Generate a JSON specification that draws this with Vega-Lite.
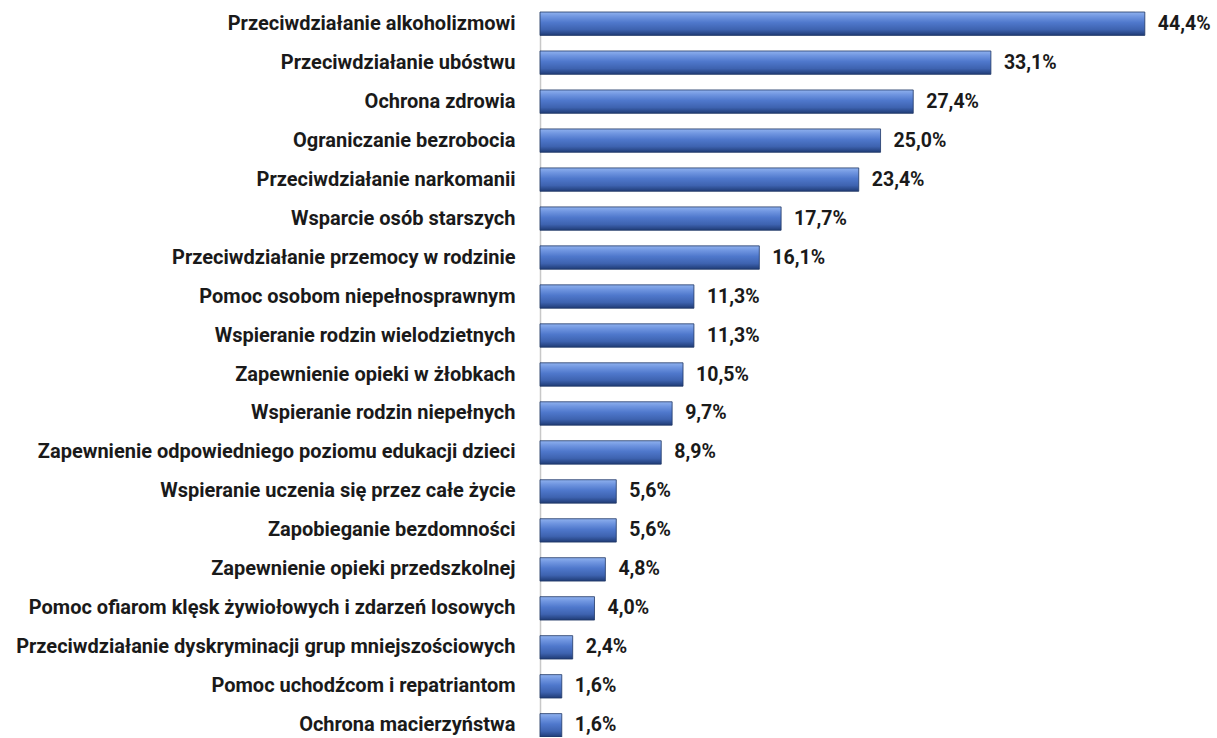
{
  "$schema": "https://vega.github.io/schema/vega-lite/v6.json",
  "autosize": "none",
  "padding": {"left": 540, "top": 12, "right": 64, "bottom": 0},
  "width": 613,
  "height": 725,
  "background": "white",
  "config": {
    "view": {"stroke": null},
    "locale": {"number": {"decimal": ",", "thousands": " ", "grouping": [3], "currency": ["", " zł"]}}
  },
  "data": {"values": [
    {"kategoria": "Przeciwdziałanie alkoholizmowi", "wartosc": 0.444},
    {"kategoria": "Przeciwdziałanie ubóstwu", "wartosc": 0.331},
    {"kategoria": "Ochrona zdrowia", "wartosc": 0.274},
    {"kategoria": "Ograniczanie bezrobocia", "wartosc": 0.25},
    {"kategoria": "Przeciwdziałanie narkomanii", "wartosc": 0.234},
    {"kategoria": "Wsparcie osób starszych", "wartosc": 0.177},
    {"kategoria": "Przeciwdziałanie przemocy w rodzinie", "wartosc": 0.161},
    {"kategoria": "Pomoc osobom niepełnosprawnym", "wartosc": 0.113},
    {"kategoria": "Wspieranie rodzin wielodzietnych", "wartosc": 0.113},
    {"kategoria": "Zapewnienie opieki w żłobkach", "wartosc": 0.105},
    {"kategoria": "Wspieranie rodzin niepełnych", "wartosc": 0.097},
    {"kategoria": "Zapewnienie odpowiedniego poziomu edukacji dzieci", "wartosc": 0.089},
    {"kategoria": "Wspieranie uczenia się przez całe życie", "wartosc": 0.056},
    {"kategoria": "Zapobieganie bezdomności", "wartosc": 0.056},
    {"kategoria": "Zapewnienie opieki przedszkolnej", "wartosc": 0.048},
    {"kategoria": "Pomoc ofiarom klęsk żywiołowych i zdarzeń losowych", "wartosc": 0.04},
    {"kategoria": "Przeciwdziałanie dyskryminacji grup mniejszościowych", "wartosc": 0.024},
    {"kategoria": "Pomoc uchodźcom i repatriantom", "wartosc": 0.016},
    {"kategoria": "Ochrona macierzyństwa", "wartosc": 0.016}
  ]},
  "encoding": {
    "y": {
      "field": "kategoria", "type": "nominal", "sort": null,
      "scale": {"paddingInner": 0.4, "paddingOuter": 0},
      "axis": {
        "title": null, "ticks": false, "domainColor": "#c8c8c8", "domainWidth": 1.5,
        "labelFont": "Roboto", "labelFontWeight": "bold", "labelFontSize": 20,
        "labelColor": "#1a1a1a", "labelPadding": 25, "labelLimit": 600
      }
    },
    "x": {
      "field": "wartosc", "type": "quantitative",
      "scale": {"domain": [0, 0.45], "nice": false},
      "axis": null
    }
  },
  "layer": [
    {
      "mark": {
        "type": "bar",
        "stroke": "#1f3766", "strokeWidth": 0.8,
        "color": {
          "gradient": "linear", "x1": 0, "y1": 0, "x2": 0, "y2": 1,
          "stops": [
            {"offset": 0, "color": "#8fb1ee"},
            {"offset": 0.2, "color": "#6f95e0"},
            {"offset": 0.45, "color": "#4f78cc"},
            {"offset": 0.75, "color": "#3e63b0"},
            {"offset": 1, "color": "#1f3b75"}
          ]
        }
      }
    },
    {
      "mark": {"type": "text", "align": "left", "baseline": "middle", "dx": 13,
               "font": "Roboto", "fontWeight": "bold", "fontSize": 19.5, "color": "#1a1a1a"},
      "encoding": {"text": {"field": "wartosc", "type": "quantitative", "format": ".1%"}}
    }
  ]
}
